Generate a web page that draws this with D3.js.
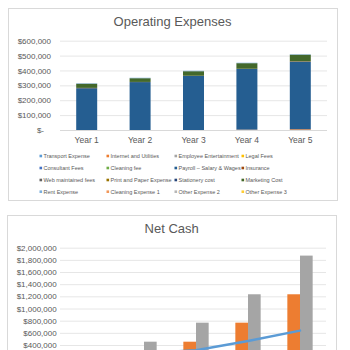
<!DOCTYPE html>
<html><head><meta charset="utf-8">
<script src="https://cdn.jsdelivr.net/npm/d3@7"></script>
<style>
html,body{margin:0;padding:0;background:#fff;}
svg{display:block;font-family:"Liberation Sans",Arial,sans-serif;}
</style></head>
<body>
<script>
// ---------- Operating Expenses data ----------
const years = ["Year 1","Year 2","Year 3","Year 4","Year 5"];
const opSeries = ["Transport Expense","Internet and Utilities","Employee Entertainment","Legal Fees",
  "Consultant Fees","Cleaning fee","Payroll – Salary & Wages","Insurance",
  "Web maintained fees","Print and Paper Expense","Stationery cost","Marketing Cost",
  "Rent Expense","Cleaning Expense 1","Other Expense 2","Other Expense 3"];
const opColors = ["#5B9BD5","#ED7D31","#A5A5A5","#FFC000","#4472C4","#70AD47","#255E91","#9E480E",
  "#636363","#997300","#264478","#43682B","#7CAFDD","#F1975A","#B7B7B7","#FFCD33"];
const transport   = [0,0,0,0,0];
const internet    = [0,0,0,2500,5000];
const employeeEnt = [0,0,0,0,0];
const legal       = [0,0,0,0,0];
const consultant  = [0,0,0,0,0];
const cleaningFee = [0,0,0,0,0];
const payroll     = [281000,322000,363000,407500,454000];
const insurance   = [2000,1000,1500,1500,2500];
const webFees     = [0,0,0,0,0];
const printPaper  = [0,0,0,0,0];
const stationery  = [0,0,0,0,0];
const marketing   = [28000,25000,30500,37500,44500];
const rent        = [3000,3000,3000,3000,3000];
const cleaning1   = [0,0,0,0,0];
const other2      = [0,0,0,0,0];
const other3      = [0,0,0,0,0];
const opValues = [transport,internet,employeeEnt,legal,consultant,cleaningFee,payroll,insurance,
  webFees,printPaper,stationery,marketing,rent,cleaning1,other2,other3];
const opTicks = [0,100000,200000,300000,400000,500000,600000];

// ---------- Net Cash data ----------
const cashSeries = ["Net Cash Flow","Beginning Cash Balance","Ending Cash Balance"];
const netFlow   = [190000,264000,313000,467000,636000];
const beginCash = [0,190000,454000,767000,1234000];
const endCash   = [190000,454000,767000,1234000,1870000];
const cashTicks = [0,200000,400000,600000,800000,1000000,1200000,1400000,1600000,1800000,2000000];

const txt = "#595959", grid = "#E6E6E6", border = "#D9D9D9";
const money = d => d === 0 ? "$-" : "$" + d3.format(",")(d);

const svg = d3.select("body").append("svg").attr("width",350).attr("height",350);
svg.append("rect").attr("width",350).attr("height",350).attr("fill","#fff");

// ================= Chart 1 =================
{
  const g = svg.append("g");
  g.append("rect").attr("x",8.5).attr("y",8.5).attr("width",329).attr("height",192)
    .attr("fill","#fff").attr("stroke",border);
  g.append("text").attr("x",172.5).attr("y",26).attr("text-anchor","middle")
    .attr("font-size",13).attr("fill",txt).text("Operating Expenses");

  const L = 60, R = 327, B = 130, T = 40.7;
  const y = d3.scaleLinear().domain([0,600000]).range([B,T]);
  const x = d3.scaleBand().domain(years).range([L,R]).paddingInner(0.607).paddingOuter(0.3035);

  // gridlines
  const gg = g.append("g").attr("transform",`translate(${L},0)`)
    .call(d3.axisLeft(y).tickValues(opTicks.filter(t=>t>0)).tickSize(-(R-L)).tickFormat(""));
  gg.select(".domain").remove();
  gg.selectAll("line").attr("stroke",grid).attr("stroke-width",1);

  // y labels
  const ya = g.append("g").attr("transform",`translate(51,0)`)
    .call(d3.axisLeft(y).tickValues(opTicks).tickSize(0).tickPadding(0).tickFormat(money));
  ya.select(".domain").remove();
  ya.selectAll("text").attr("font-size",8).attr("fill",txt).attr("font-family","Liberation Sans, Arial, sans-serif");
  ya.selectAll(".tick").filter(d=>d===0).select("text").attr("x",-7);

  // stacked bars
  const rows = years.map((yr,i)=>{ const o={year:yr}; opSeries.forEach((s,k)=>o[s]=opValues[k][i]); return o; });
  const stack = d3.stack().keys(opSeries)(rows);
  g.append("g").selectAll("g").data(stack).join("g").attr("fill",(d,i)=>opColors[i])
    .selectAll("rect").data(d=>d).join("rect")
    .attr("x",d=>x(d.data.year)).attr("width",x.bandwidth())
    .attr("y",d=>y(d[1])).attr("height",d=>Math.max(0,y(d[0])-y(d[1])));

  // x axis
  const xa = g.append("g").attr("transform",`translate(0,${B})`)
    .call(d3.axisBottom(x).tickSize(0).tickPadding(7));
  xa.select(".domain").attr("stroke",border).attr("d",`M${L},0.5H${R}`);
  xa.selectAll("text").attr("font-size",8.5).attr("fill",txt).attr("font-family","Liberation Sans, Arial, sans-serif");

  // legend
  const colX = [39.5,106.5,174.5,241.5], rowY = [156,168,180,191.7];
  const lg = g.append("g").selectAll("g").data(opSeries).join("g")
    .attr("transform",(d,i)=>`translate(${colX[i%4]},${rowY[Math.floor(i/4)]})`);
  lg.append("rect").attr("x",0).attr("y",-1.3).attr("width",2.6).attr("height",2.6).attr("fill",(d,i)=>opColors[i]);
  lg.append("text").attr("x",4).attr("y",2).attr("font-size",5.5).attr("fill",txt).text(d=>d);
}

// ================= Chart 2 =================
{
  const g = svg.append("g");
  g.append("rect").attr("x",7.5).attr("y",215.5).attr("width",329).attr("height",200)
    .attr("fill","#fff").attr("stroke",border);
  g.append("text").attr("x",171.7).attr("y",233).attr("text-anchor","middle")
    .attr("font-size",13).attr("fill",txt).text("Net Cash");

  const GL = 60, L = 66, R = 326, B = 369.3, T = 247.7;
  const y = d3.scaleLinear().domain([0,2000000]).range([B,T]);
  const x = d3.scaleBand().domain(years).range([L,R]).paddingInner(0.513).paddingOuter(0.2565);
  const xs = d3.scaleBand().domain(["begin","end"]).range([0,x.bandwidth()]);

  const gg = g.append("g").attr("transform",`translate(${GL},0)`)
    .call(d3.axisLeft(y).tickValues(cashTicks.filter(t=>t>0)).tickSize(-(R-GL)).tickFormat(""));
  gg.select(".domain").remove();
  gg.selectAll("line").attr("stroke",grid).attr("stroke-width",1);

  const ya = g.append("g").attr("transform",`translate(56.7,0)`)
    .call(d3.axisLeft(y).tickValues(cashTicks).tickSize(0).tickPadding(0).tickFormat(money));
  ya.select(".domain").remove();
  ya.selectAll("text").attr("font-size",8).attr("fill",txt).attr("font-family","Liberation Sans, Arial, sans-serif");

  const bars = g.append("g");
  bars.selectAll("rect.b").data(years).join("rect").attr("class","b")
    .attr("x",d=>x(d)+xs("begin")).attr("width",xs.bandwidth())
    .attr("y",(d,i)=>y(beginCash[i])).attr("height",(d,i)=>B-y(beginCash[i])).attr("fill","#ED7D31");
  bars.selectAll("rect.e").data(years).join("rect").attr("class","e")
    .attr("x",d=>x(d)+xs("end")).attr("width",xs.bandwidth())
    .attr("y",(d,i)=>y(endCash[i])).attr("height",(d,i)=>B-y(endCash[i])).attr("fill","#A5A5A5");

  const line = d3.line().x((d,i)=>x(years[i])+x.bandwidth()/2).y(d=>y(d));
  g.append("path").datum(netFlow).attr("d",line).attr("fill","none")
    .attr("stroke","#5B9BD5").attr("stroke-width",2.5).attr("stroke-linejoin","round").attr("stroke-linecap","round");
}
</script>
</body></html>
